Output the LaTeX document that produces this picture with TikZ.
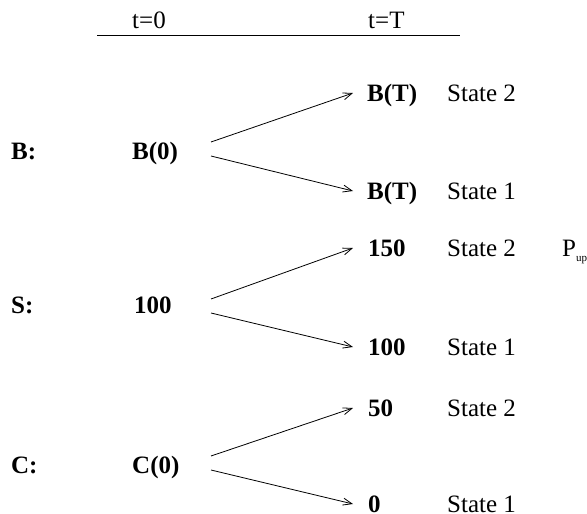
\documentclass[tikz,border=0pt]{standalone}
\usepackage{fontspec}
\setmainfont{Liberation Serif}
\usetikzlibrary{arrows.meta}
\begin{document}
\begin{tikzpicture}[x=1pt,y=-1pt,
  lab/.style={anchor=base west,inner sep=0pt,font=\fontsize{25}{29}\selectfont\bfseries},
  txt/.style={anchor=base west,inner sep=0pt,font=\fontsize{25}{29}\selectfont},
  arr/.style={-{Straight Barb[length=9pt,width=7pt]},line width=0.8pt},
  rule/.style={line width=0.8pt}]
\useasboundingbox (0,0) rectangle (587,514);
% header
\node[txt] (t0) at (132,28) {t=0};
\node[txt] (tT) at (368,28) {t=T};
\coordinate (hl) at (97,35);
\coordinate (hr) at (460,35);
\draw[rule] (hl) -- (hr);
% left column
\node[lab] (lB) at (11,159) {B:};
\node[lab] (lS) at (11,313) {S:};
\node[lab] (lC) at (11,473) {C:};
% t=0 values
\node[lab] (B0) at (132,159) {B(0)};
\node[lab] (S0) at (134,313) {100};
\node[lab] (C0) at (132,473) {C(0)};
% t=T values
\node[lab] (BTu) at (367,101) {B(T)};
\node[lab] (BTd) at (367,199) {B(T)};
\node[lab] (STu) at (368,256) {150};
\node[lab] (STd) at (368,355) {100};
\node[lab] (CTu) at (368,416) {50};
\node[lab] (CTd) at (368,512) {0};
% states
\node[txt] (sBu) at (447,101) {State 2};
\node[txt] (sBd) at (447,199) {State 1};
\node[txt] (sSu) at (447,256) {State 2};
\node[txt] (sSd) at (447,355) {State 1};
\node[txt] (sCu) at (447,416) {State 2};
\node[txt] (sCd) at (447,512) {State 1};
\node[txt] (pup) at (562,256) {P\raisebox{-5pt}{\fontsize{11}{11}\selectfont up}};
% fork points
\coordinate (fB) at (211,149);
\coordinate (fS) at (211,306);
\coordinate (fC) at (211,463);
\draw[arr] ([yshift=7pt]fB) -- ([shift={(-14pt,8pt)}]BTu.base west);
\draw[arr] ([yshift=-7pt]fB) -- ([shift={(-14pt,8pt)}]BTd.base west);
\draw[arr] ([yshift=7pt]fS) -- ([shift={(-15pt,8pt)}]STu.base west);
\draw[arr] ([yshift=-7pt]fS) -- ([shift={(-15pt,8pt)}]STd.base west);
\draw[arr] ([yshift=7pt]fC) -- ([shift={(-15pt,8pt)}]CTu.base west);
\draw[arr] ([yshift=-7pt]fC) -- ([shift={(-15pt,8pt)}]CTd.base west);
\end{tikzpicture}
\end{document}
